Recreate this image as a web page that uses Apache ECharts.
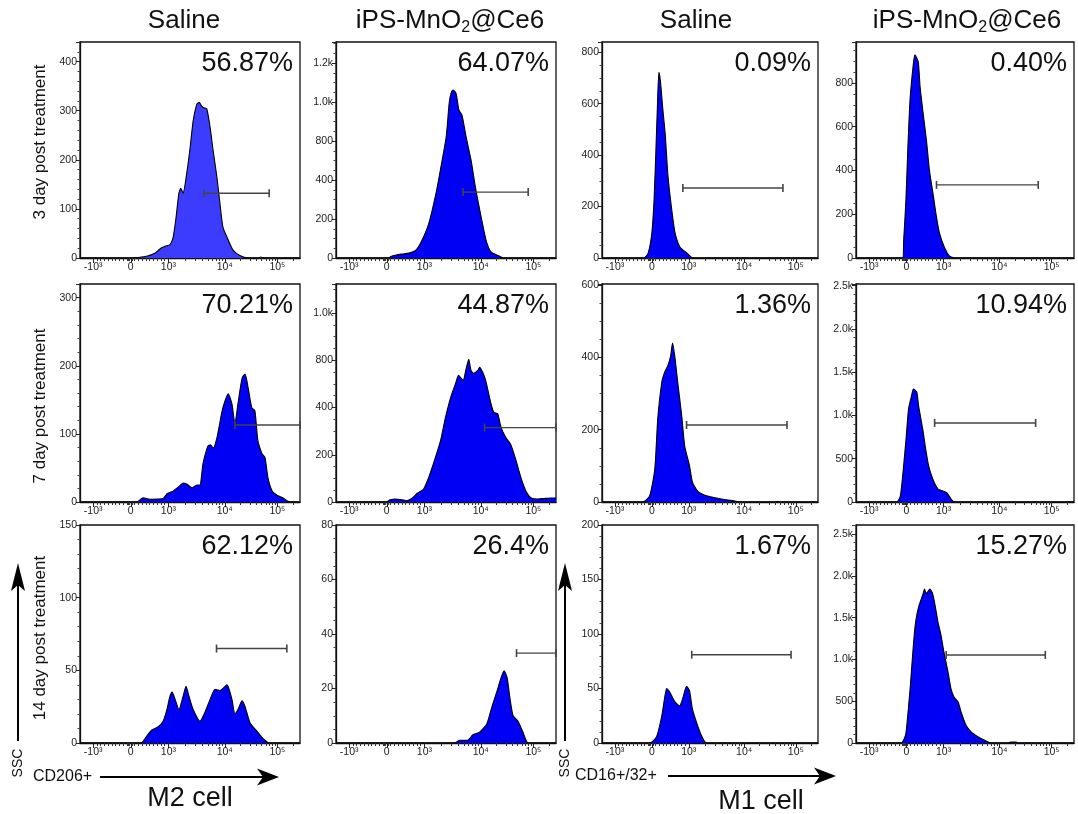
<!DOCTYPE html>
<html>
<head>
<meta charset="utf-8">
<script src="https://cdn.jsdelivr.net/npm/echarts@6/dist/echarts.min.js"></script>
<style>
html,body{margin:0;padding:0;background:#fff;}
#chart{width:1078px;height:814px;}
</style>
</head>
<body>
<div id="chart"></div>
<script>
// ---------- DATA (x in display units of the biexponential axis, y = count in axis units) ----------
const xTickU = [-1, 0, 1, 2.5, 3.9];
const xTickLabels = ['-10³', '0', '10³', '10⁴', '10⁵'];

const colTitles = ['Saline', 'iPS-MnO2@Ce6', 'Saline', 'iPS-MnO2@Ce6'];
const rowTitles = ['3 day post treatment', '7 day post treatment', '14 day post treatment'];
const percents = ['56.87%', '64.07%', '0.09%', '0.40%',
                  '70.21%', '44.87%', '1.36%', '10.94%',
                  '62.12%', '26.4%', '1.67%', '15.27%'];

const yMax  = [440, 1108, 840, 987, 320, 923, 603, 2520, 150, 80, 200, 2608];
const yStep = [100, 200, 200, 200, 100, 200, 200, 500, 50, 20, 50, 500];
const yLabels = [
  ['0','100','200','300','400'],
  ['0','200','400','800','1.0k','1.2k'],
  ['0','200','400','600','800'],
  ['0','200','400','600','800'],
  ['0','100','200','300'],
  ['0','200','400','800','1.0k'],
  ['0','200','400','600'],
  ['0','500','1.0k','1.5k','2.0k','2.5k'],
  ['0','50','100','150'],
  ['0','20','40','60','80'],
  ['0','50','100','150','200'],
  ['0','500','1.0k','1.5k','2.0k','2.5k']
];

const d3_saline_m2 = [[-1.35,0],[0.0,0],[0.2,1],[0.45,4],[0.65,10],[0.8,20],[0.95,25],[1.04,27],[1.12,40],[1.2,80],[1.28,132],[1.33,142],[1.39,132],[1.5,179],[1.58,226],[1.66,280],[1.76,314],[1.82,317],[1.88,310],[1.94,306],[2.02,304],[2.11,266],[2.19,219],[2.29,165],[2.37,112],[2.45,63],[2.59,37],[2.72,16],[2.9,5],[3.12,0],[3.4,0],[3.45,2],[3.55,0],[4.5,0]];
const d3_ips_m2 = [[-1.35,0],[0.05,0],[0.11,8],[0.25,15],[0.41,20],[0.59,25],[0.78,41],[0.94,92],[1.12,179],[1.31,333],[1.44,467],[1.58,621],[1.66,795],[1.71,846],[1.76,862],[1.84,846],[1.92,759],[2.0,733],[2.11,621],[2.24,503],[2.37,349],[2.51,210],[2.64,92],[2.77,31],[2.99,10],[3.1,0],[4.5,0]];
const d3_saline_m1 = [[-1.35,0],[-0.22,0],[-0.1,19],[0.0,97],[0.06,225],[0.11,419],[0.15,586],[0.19,722],[0.23,691],[0.3,575],[0.36,485],[0.44,314],[0.55,175],[0.63,97],[0.76,43],[0.95,19],[1.12,0],[4.5,0]];
const d3_ips_m1 = [[-1.35,0],[-0.1,0],[-0.07,82],[-0.01,265],[0.04,494],[0.1,722],[0.18,873],[0.23,928],[0.32,896],[0.37,782],[0.45,663],[0.54,539],[0.62,402],[0.73,279],[0.81,187],[0.89,114],[1.03,46],[1.16,9],[1.3,0],[4.5,0]];

const d7_saline_m2 = [[-1.35,0],[0.15,0],[0.33,6],[0.51,4],[0.86,5],[0.96,12],[1.12,16],[1.31,24],[1.39,28],[1.5,26],[1.63,21],[1.76,25],[1.84,25],[1.92,56],[2.05,82],[2.12,84],[2.19,79],[2.29,94],[2.43,134],[2.51,149],[2.59,159],[2.69,144],[2.77,115],[2.85,144],[2.96,182],[3.04,188],[3.12,168],[3.22,138],[3.3,134],[3.38,90],[3.49,71],[3.57,65],[3.65,35],[3.76,16],[3.89,10],[4.05,6],[4.18,1],[4.29,0],[4.5,0]];
const d7_ips_m2 = [[-1.35,0],[-0.02,0],[0.09,9],[0.23,13],[0.41,9],[0.55,6],[0.68,17],[0.82,38],[0.98,55],[1.11,102],[1.24,162],[1.43,260],[1.56,357],[1.7,443],[1.83,502],[1.91,536],[2.03,515],[2.1,557],[2.18,604],[2.24,557],[2.31,545],[2.42,557],[2.47,570],[2.55,549],[2.63,515],[2.77,417],[2.85,379],[2.95,374],[3.04,315],[3.17,272],[3.3,243],[3.44,174],[3.57,102],[3.7,47],[3.84,17],[4.02,13],[4.18,15],[4.37,17],[4.5,17]];
const d7_saline_m1 = [[-1.35,0],[-0.25,0],[-0.06,17],[0.08,91],[0.16,230],[0.27,332],[0.35,360],[0.43,376],[0.51,404],[0.56,440],[0.62,404],[0.7,332],[0.81,238],[0.89,155],[1.02,100],[1.1,55],[1.24,30],[1.48,17],[1.75,11],[2.02,6],[2.23,3],[2.37,0],[3.35,0],[3.4,2],[3.45,0],[4.5,0]];
const d7_ips_m1 = [[-1.35,0],[-0.26,0],[-0.16,69],[-0.08,382],[0.0,764],[0.06,1076],[0.14,1226],[0.19,1307],[0.28,1273],[0.33,1111],[0.44,845],[0.52,613],[0.6,417],[0.71,266],[0.85,150],[0.98,127],[1.09,104],[1.2,35],[1.28,0],[4.5,0]];

const d14_saline_m2 = [[-1.35,0],[0.27,0],[0.43,5],[0.56,9],[0.72,11],[0.86,15],[0.96,23],[1.04,32],[1.1,35],[1.18,30],[1.28,23],[1.39,32],[1.47,39],[1.55,32],[1.66,23],[1.84,15],[1.97,21],[2.11,30],[2.24,37],[2.37,36],[2.56,40],[2.69,30],[2.77,20],[2.85,23],[2.96,29],[3.04,25],[3.17,14],[3.36,8],[3.52,3],[3.7,0],[4.5,0]];
const d14_ips_m2 = [[-1.35,0],[1.8,0],[1.94,1],[2.15,1],[2.29,3],[2.47,4],[2.66,7],[2.79,13],[2.93,19],[3.04,24],[3.12,26.5],[3.2,24],[3.28,16],[3.36,10],[3.49,8],[3.62,4],[3.76,0],[4.5,0]];
const d14_saline_m1 = [[-1.35,0],[-0.05,0],[0.13,6],[0.27,25],[0.35,42],[0.4,50],[0.48,47],[0.62,38],[0.75,34],[0.83,40],[0.94,52],[1.02,48],[1.1,31],[1.24,16],[1.37,5],[1.48,0],[4.5,0]];
const d14_ips_m1 = [[-1.35,0],[-0.14,0],[-0.02,96],[0.03,287],[0.11,694],[0.19,1172],[0.25,1447],[0.33,1627],[0.44,1770],[0.49,1842],[0.53,1790],[0.57,1806],[0.63,1842],[0.71,1782],[0.79,1603],[0.85,1447],[0.93,1292],[1.01,1088],[1.12,849],[1.2,646],[1.28,550],[1.39,490],[1.47,371],[1.6,215],[1.74,132],[1.93,72],[2.09,36],[2.28,0],[2.75,0],[2.8,10],[2.95,10],[3.0,0],[4.5,0]];

// gate: [start, end, height]
const gates = [
  [1.95, 3.68, 132], [2.03, 3.76, 338], [0.84, 3.55, 272], [0.81, 3.54, 334],
  [2.77, 4.5, 113],  [2.60, 4.5, 315],  [0.94, 3.66, 213], [0.76, 3.47, 914],
  [2.28, 4.15, 65],  [3.45, 4.5, 33],   [1.08, 3.77, 81],  [1.07, 3.73, 1053]
];

const histograms = [d3_saline_m2, d3_ips_m2, d3_saline_m1, d3_ips_m1,
                    d7_saline_m2, d7_ips_m2, d7_saline_m1, d7_ips_m1,
                    d14_saline_m2, d14_ips_m2, d14_saline_m1, d14_ips_m1];

// ---------- LAYOUT ----------
const X_MIN = -1.35, X_MAX = 4.5;
const colLeft = [80, 336, 602, 856];
const colWidth = [220, 220, 216, 218];
const rowTop = [42, 284, 525];
const rowHeight = [216, 218, 218];
const FONT = "'Liberation Sans', Arial, Helvetica, sans-serif";

// minor tick positions of the display axis
const xMinorU = [];
for (let k = 1; k <= 9; k++) { xMinorU.push(-k / 10); xMinorU.push(k / 10); }
xMinorU.push(-0.03, -0.05, -0.07, 0.03);
for (let k = 2; k <= 9; k++) {
  xMinorU.push(1 + 1.5 * Math.log10(k));
  xMinorU.push(2.5 + 1.4 * Math.log10(k));
  const u = 3.9 + 1.4 * Math.log10(k);
  if (u < X_MAX) xMinorU.push(u);
}

function xLabel(v) {
  for (let i = 0; i < xTickU.length; i++) if (Math.abs(xTickU[i] - v) < 1e-6) return xTickLabels[i];
  return '';
}

const grids = [], xAxes = [], yAxes = [], series = [], graphics = [];
for (let r = 0; r < 3; r++) {
  for (let c = 0; c < 4; c++) {
    const i = r * 4 + c;
    grids.push({left: colLeft[c], top: rowTop[r], width: colWidth[c], height: rowHeight[r],
      show: true, borderColor: '#111', borderWidth: 1.3, backgroundColor: '#fff'});
    xAxes.push({gridIndex: i, type: 'value', min: X_MIN, max: X_MAX, position: 'bottom',
      splitLine: {show: false},
      axisLine: {show: true, onZero: false, lineStyle: {color: '#111', width: 1.3}},
      axisTick: {show: true, customValues: xTickU, length: 5, lineStyle: {color: '#222', width: 1}},
      axisLabel: {show: true, customValues: xTickU, formatter: xLabel, fontSize: 10.5, color: '#222', margin: 4, fontFamily: FONT}
    });
    xAxes.push({gridIndex: i, type: 'value', min: X_MIN, max: X_MAX, position: 'bottom',
      splitLine: {show: false}, axisLine: {show: false}, axisLabel: {show: false},
      axisTick: {show: true, customValues: xMinorU, length: 3, lineStyle: {color: '#333', width: 1}}
    });
    const step = yStep[i], labs = yLabels[i];
    yAxes.push({gridIndex: i, type: 'value', min: 0, max: yMax[i], interval: step,
      splitLine: {show: false},
      axisLine: {show: true, onZero: false, lineStyle: {color: '#111', width: 1.3}},
      axisTick: {show: true, length: 4, lineStyle: {color: '#222'}},
      minorTick: {show: true, splitNumber: (step === 200 || step === 20) ? 4 : 5, length: 2.5, lineStyle: {color: '#444'}},
      axisLabel: {fontSize: 10.5, color: '#222', margin: 3, fontFamily: FONT, showMaxLabel: true,
        formatter: function (v) {
          const k = Math.round(v / step);
          if (Math.abs(k * step - v) < 1e-6 && k < labs.length) return labs[k];
          return '';
        }}
    });
    series.push({type: 'line', xAxisIndex: 2 * i, yAxisIndex: i, data: histograms[i],
      symbol: 'none', smooth: 0.2, silent: true, z: 2,
      lineStyle: {color: '#000', width: 1.1},
      areaStyle: {color: i === 0 ? '#3c3cff' : '#0000f5', opacity: 1}
    });
    const g = gates[i];
    series.push({type: 'line', xAxisIndex: 2 * i, yAxisIndex: i,
      data: [[g[0], g[2]], [g[1], g[2]]],
      symbol: 'rect', symbolSize: [1.6, 8], silent: true, z: 3,
      itemStyle: {color: '#444'}, lineStyle: {color: '#444', width: 1.4}
    });
    graphics.push({type: 'text', x: colLeft[c] + colWidth[c] - 7, y: rowTop[r] + 8, silent: true,
      style: {text: percents[i], font: '27px ' + FONT, fill: '#111', textAlign: 'right', textVerticalAlign: 'top'}});
  }
}

// column titles
const titleX = [184, 450, 696, 967];
colTitles.forEach(function (t, c) {
  const parts = t.split('2');
  const txt = parts.length > 1 ? '{a|' + parts[0] + '}{s|2}{a|' + parts[1] + '}' : '{a|' + t + '}';
  graphics.push({type: 'text', x: titleX[c], y: 21, silent: true,
    style: {text: txt, textAlign: 'center', textVerticalAlign: 'middle',
      rich: {a: {fontSize: 26, fontFamily: FONT, fill: '#111', lineHeight: 30},
             s: {fontSize: 16, fontFamily: FONT, fill: '#111', lineHeight: 12, verticalAlign: 'bottom'}}}});
});

// row titles
const rowTitleY = [142, 406, 638];
rowTitles.forEach(function (t, r) {
  graphics.push({type: 'text', x: 40, y: rowTitleY[r], rotation: Math.PI / 2, silent: true,
    style: {text: t, font: '17px ' + FONT, fill: '#111', textAlign: 'center', textVerticalAlign: 'middle'}});
});

// axis arrows and captions
function vArrow(x) {
  graphics.push({type: 'line', silent: true, shape: {x1: x, y1: 741, x2: x, y2: 582}, style: {stroke: '#000', lineWidth: 2}});
  graphics.push({type: 'polygon', silent: true, shape: {points: [[x, 563], [x + 7, 591], [x, 585], [x - 7, 591]]}, style: {fill: '#000'}});
  graphics.push({type: 'text', x: x, y: 763, rotation: Math.PI / 2, silent: true,
    style: {text: 'SSC', font: '14px ' + FONT, fill: '#111', textAlign: 'center', textVerticalAlign: 'middle'}});
}
function hArrow(x1, x2, y) {
  graphics.push({type: 'line', silent: true, shape: {x1: x1, y1: y, x2: x2 - 14, y2: y}, style: {stroke: '#000', lineWidth: 2}});
  graphics.push({type: 'polygon', silent: true, shape: {points: [[x2, y], [x2 - 22, y - 8.5], [x2 - 16, y], [x2 - 22, y + 8.5]]}, style: {fill: '#000'}});
}
vArrow(18); vArrow(565);
hArrow(100, 279, 777); hArrow(668, 836, 776);
graphics.push({type: 'text', x: 33, y: 777, silent: true, style: {text: 'CD206+', font: '16px ' + FONT, fill: '#111', textAlign: 'left', textVerticalAlign: 'middle'}});
graphics.push({type: 'text', x: 575, y: 776, silent: true, style: {text: 'CD16+/32+', font: '16px ' + FONT, fill: '#111', textAlign: 'left', textVerticalAlign: 'middle'}});
graphics.push({type: 'text', x: 190, y: 799, silent: true, style: {text: 'M2 cell', font: '27px ' + FONT, fill: '#111', textAlign: 'center', textVerticalAlign: 'middle'}});
graphics.push({type: 'text', x: 761, y: 802, silent: true, style: {text: 'M1 cell', font: '27px ' + FONT, fill: '#111', textAlign: 'center', textVerticalAlign: 'middle'}});

const chart = echarts.init(document.getElementById('chart'), null, {renderer: 'canvas'});
chart.setOption({
  backgroundColor: '#fff',
  animation: false,
  grid: grids,
  xAxis: xAxes,
  yAxis: yAxes,
  series: series,
  graphic: {elements: graphics}
});
</script>
</body>
</html>
